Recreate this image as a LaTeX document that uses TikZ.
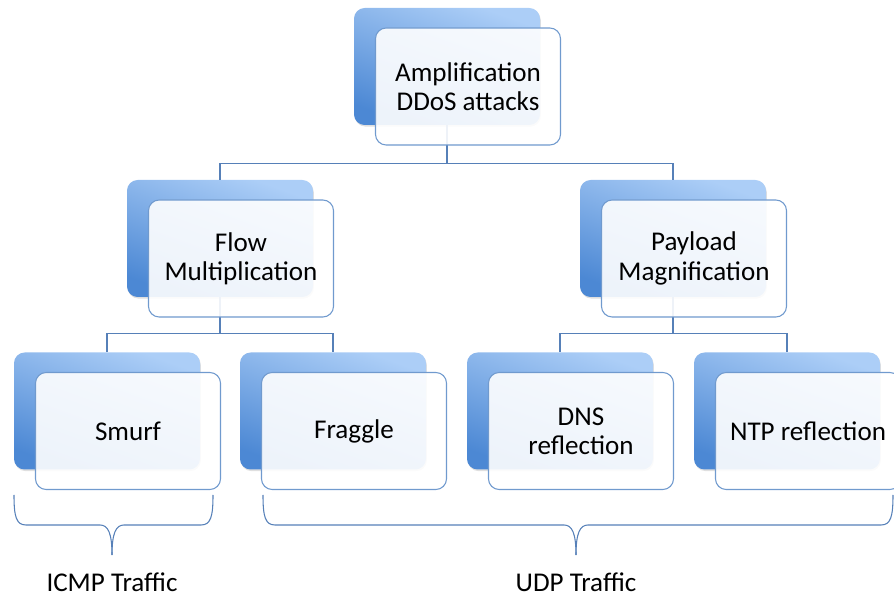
\documentclass[tikz,border=0pt]{standalone}
\usepackage{fontspec}
\setmainfont{Carlito}
\usetikzlibrary{positioning, calc, shadows}
\definecolor{boxlight}{RGB}{172,206,247}
\definecolor{boxdark}{RGB}{76,136,212}
\definecolor{edgeblue}{RGB}{112,154,206}
\definecolor{linkblue}{RGB}{86,128,184}

\begin{document}
\begin{tikzpicture}[
        x=0.75pt, y=-0.75pt,
        back/.style={rectangle, rounded corners=8pt, minimum width=139.5pt, minimum height=87.75pt,
            top color=boxlight, bottom color=boxdark, shading angle=-20,
            drop shadow={shadow xshift=0.6pt, shadow yshift=-1.2pt, opacity=0.25}},
        front/.style={rectangle, rounded corners=8pt, draw=edgeblue, line width=0.8pt, fill=white,
            fill opacity=0.9, text opacity=1, minimum width=138.75pt, minimum height=87.75pt,
            align=center, font=\fontsize{20.3}{22}\selectfont},
        link/.style={draw=linkblue, line width=0.8pt},
        bracket/.style={draw=linkblue, line width=0.8pt},
        caption/.style={font=\fontsize{20.3}{22}\selectfont}
    ]
        \useasboundingbox (0,0) rectangle (894,598);

        % Back cards
        \node[back] (amp) at (447,66.5) {};
        \node[back] (flow) at (220,238.5) {};
        \node[back] (payload) at (673,238.5) {};
        \node[back] (smurf) at (107,411) {};
        \node[back] (fraggle) at (333,411) {};
        \node[back] (dns) at (560,411) {};
        \node[back] (ntp) at (787,411) {};

        % Tree links
        \draw[link] (amp.south) -- +(0,38) -| (flow.north);
        \draw[link] (amp.south) -- +(0,38) -| (payload.north);
        \draw[link] (flow.south) -- +(0,36) -| (smurf.north);
        \draw[link] (flow.south) -- +(0,36) -| (fraggle.north);
        \draw[link] (payload.south) -- +(0,36) -| (dns.north);
        \draw[link] (payload.south) -- +(0,36) -| (ntp.north);

        % Front cards
        \node[front] (ampF) at ([shift={(21,20)}]amp.center) {Amplification\\DDoS attacks};
        \node[front] (flowF) at ([shift={(21,20)}]flow.center) {Flow\\Multiplication};
        \node[front] (payloadF) at ([shift={(21,20)}]payload.center) {Payload\\Magnification};
        \node[front] (smurfF) at ([shift={(21,20)}]smurf.center) {Smurf};
        \node[front] (fraggleF) at ([shift={(21,20)}]fraggle.center) {Fraggle};
        \node[front] (dnsF) at ([shift={(21,20)}]dns.center) {DNS\\reflection};
        \node[front] (ntpF) at ([shift={(21,20)}]ntp.center) {NTP reflection};

        % Brackets
        \coordinate (icmpTip) at (112,555);
        \coordinate (udpTip) at (576,555);
        \draw[bracket] (14,495) .. controls (14,516) and (16,525) .. (26,525) -- (100,525)
            .. controls (108,525) and (112,533) .. (icmpTip);
        \draw[bracket] (213,495) .. controls (213,516) and (211,525) .. (201,525) -- (124,525)
            .. controls (116,525) and (112,533) .. (icmpTip);
        \draw[bracket] (263,495) .. controls (263,516) and (265,525) .. (275,525) -- (564,525)
            .. controls (572,525) and (576,533) .. (udpTip);
        \draw[bracket] (893,495) .. controls (893,516) and (891,525) .. (881,525) -- (588,525)
            .. controls (580,525) and (576,533) .. (udpTip);

        \node[caption] (icmpLabel) at (112,582) {ICMP Traffic};
        \node[caption] (udpLabel) at (576,582) {UDP Traffic};

    \end{tikzpicture}
\end{document}
